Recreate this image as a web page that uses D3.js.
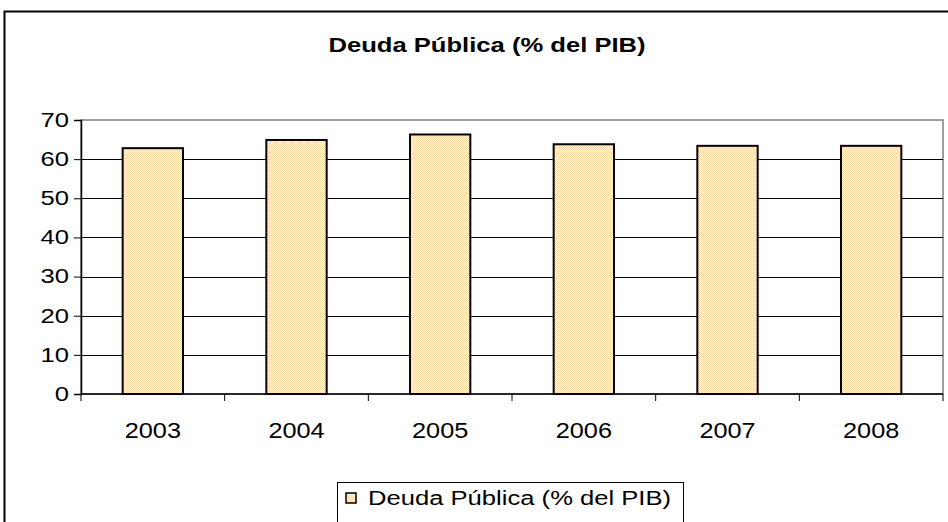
<!DOCTYPE html>
<html>
<head>
<meta charset="utf-8">
<script src="https://cdn.jsdelivr.net/npm/d3@7"></script>
<style>
  html, body { margin: 0; padding: 0; background: #fff; }
  svg { display: block; font-family: "Liberation Sans", Arial, sans-serif; }
</style>
</head>
<body>
<svg id="chart" width="948" height="522"></svg>
<script>
// data
const years = ["2003", "2004", "2005", "2006", "2007", "2008"];
const deuda = [62.8, 64.9, 66.3, 63.8, 63.4, 63.4];
const yTicks = [0, 10, 20, 30, 40, 50, 60, 70];
const titleText = "Deuda Pública (% del PIB)";
const seriesName = "Deuda Pública (% del PIB)";

const svg = d3.select("#chart");
const m = {left: 81, right: 943, top: 120, bottom: 394};
const sx = 1.28; // the picture is stretched sideways, text too

// dotted orange fill like the excel pattern
const defs = svg.append("defs");
const pat = defs.append("pattern")
    .attr("id", "dots")
    .attr("width", 2).attr("height", 2)
    .attr("patternUnits", "userSpaceOnUse");
pat.append("rect").attr("width", 2).attr("height", 2).attr("fill", "#fff");
pat.append("rect").attr("x", 0).attr("y", 0).attr("width", 1).attr("height", 1).attr("fill", "#ffd9a3");
pat.append("rect").attr("x", 1).attr("y", 1).attr("width", 1).attr("height", 1).attr("fill", "#ffd9a3");

// place a stretched text
function stext(g, x0, y0, txt, anchor, k){
    return g.append("text")
        .attr("transform", "translate(" + x0 + "," + y0 + ") scale(" + (k || sx) + ",1)")
        .attr("text-anchor", anchor || "start")
        .text(txt);
}

// outer chart border (right/bottom run off the picture)
svg.append("rect")
    .attr("x", 4.5).attr("y", 11.5)
    .attr("width", 1000).attr("height", 600)
    .attr("fill", "#fff")
    .attr("stroke", "#000")
    .attr("stroke-width", 2);

stext(svg, 487, 52, titleText, "middle")
    .style("font-size", "20px")
    .style("font-weight", "bold");

let x = d3.scaleBand()
    .domain(years)
    .range([m.left, m.right])
    .padding(0);
let y = d3.scaleLinear()
    .domain([0, 70])
    .range([m.bottom, m.top]);

// plot area frame
svg.append("rect")
    .attr("x", m.left).attr("y", m.top)
    .attr("width", m.right - m.left).attr("height", m.bottom - m.top)
    .attr("fill", "none")
    .attr("stroke", "#808080")
    .attr("stroke-width", 1.5);

// gridlines
svg.append("g")
    .selectAll("line")
    .data(yTicks.filter(t => t > 0 && t < 70))
    .enter().append("line")
    .attr("x1", m.left).attr("x2", m.right)
    .attr("y1", d => Math.round(y(d)) + 0.5)
    .attr("y2", d => Math.round(y(d)) + 0.5)
    .attr("stroke", "#000")
    .attr("stroke-width", 1);

// bars
const barW = x.bandwidth() * 0.42;
svg.append("g")
    .selectAll("rect")
    .data(deuda)
    .enter().append("rect")
    .attr("x", (d, i) => x(years[i]) + (x.bandwidth() - barW) / 2)
    .attr("y", d => y(d))
    .attr("width", barW)
    .attr("height", d => y(0) - y(d))
    .attr("fill", "url(#dots)")
    .attr("stroke", "#000")
    .attr("stroke-width", 2);

// y axis
let axisY = svg.append("g")
    .attr("transform", "translate(" + m.left + ",0)")
    .call(d3.axisLeft(y).tickValues(yTicks).tickSize(7).tickPadding(0));
axisY.select(".domain").attr("stroke", "#000").attr("stroke-width", 1.5);
axisY.selectAll(".tick line").attr("stroke", "#000");
axisY.selectAll("text")
    .attr("x", -12 / sx)
    .attr("transform", "scale(" + sx + ",1)")
    .style("font-size", "20px")
    .style("font-family", "Liberation Sans, Arial, sans-serif")
    .attr("fill", "#000");

// x axis: ticks between categories
let axisX = svg.append("g")
    .attr("transform", "translate(0," + m.bottom + ")");
axisX.append("line")
    .attr("x1", m.left).attr("x2", m.right)
    .attr("stroke", "#000").attr("stroke-width", 1.5);
axisX.selectAll(".sep")
    .data(years.concat(["end"]))
    .enter().append("line")
    .attr("class", "sep")
    .attr("x1", (d, i) => i < years.length ? x(d) : m.right)
    .attr("x2", (d, i) => i < years.length ? x(d) : m.right)
    .attr("y1", 0).attr("y2", 7)
    .attr("stroke", "#000");
years.forEach(d => {
    stext(axisX, x(d) + x.bandwidth() / 2, 44, d, "middle", 1.15)
        .style("font-size", "22px");
});

// legend
let lg = svg.append("g");
lg.append("rect")
    .attr("x", 337.5).attr("y", 482.5)
    .attr("width", 346).attr("height", 60)
    .attr("fill", "#fff")
    .attr("stroke", "#000");
lg.append("rect")
    .attr("x", 346).attr("y", 493)
    .attr("width", 10).attr("height", 10)
    .attr("fill", "url(#dots)")
    .attr("stroke", "#000")
    .attr("stroke-width", 1.5);
stext(lg, 368, 505, seriesName)
    .style("font-size", "20px");
</script>
</body>
</html>
